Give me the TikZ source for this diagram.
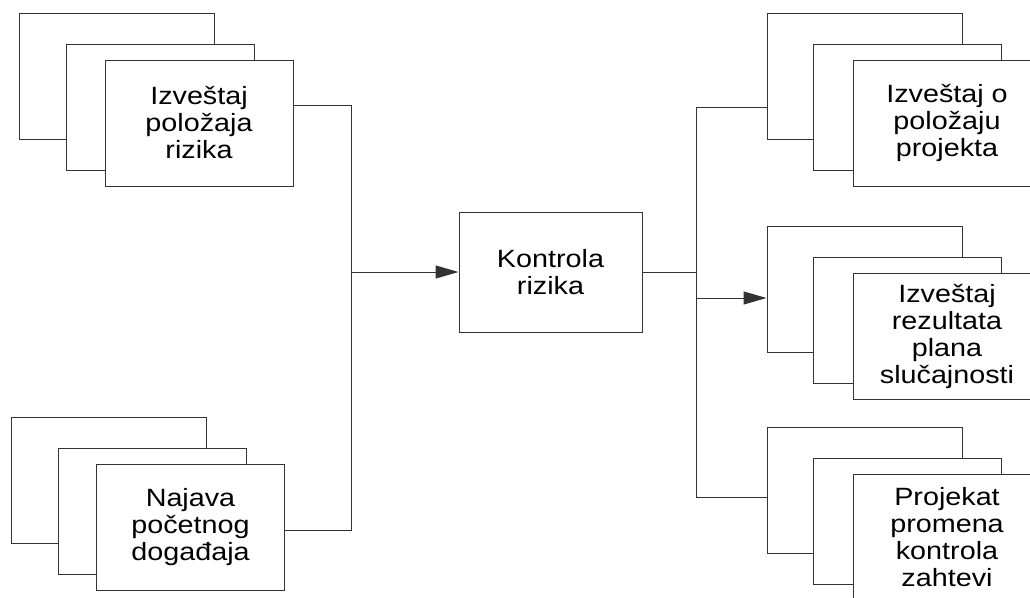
\documentclass[tikz,border=0pt]{standalone}
\usepackage{fontspec}
\usetikzlibrary{arrows.meta,calc}
\newfontfamily\lblfont[FakeStretch=1.15]{Liberation Sans}
\newcommand{\lblsize}{\lblfont\fontsize{25}{27}\selectfont}
\tikzset{
  card/.style={draw=black!80, line width=1pt, fill=white, minimum width=188pt,
    minimum height=126pt, inner sep=0pt, align=center, font=\lblsize},
  backcard/.style={card, minimum width=195pt},
  link/.style={draw=black!80, line width=1pt},
  arr/.style={link, -{Triangle[length=23pt,width=13pt]}}
}
\begin{document}
\begin{tikzpicture}[x=1pt,y=-1pt]
\useasboundingbox (0,0) rectangle (1030,597);
\clip (0,0) rectangle (1030,597);
\fill[white] (0,0) rectangle (1030,597);

% inputs: stacked report cards
\node[backcard] (A1) at (116.5,76) {};
\node[card] (A2) at (160,107.5) {};
\node[card] (A3) at (199,123) {Izveštaj\\položaja\\rizika};

\node[backcard] (B1) at (108.5,480) {};
\node[card] (B2) at (152,511.5) {};
\node[card] (B3) at (190.5,527) {Najava\\početnog\\događaja};

% central process
\node[card, minimum width=183pt, minimum height=120pt] (K) at (550.5,272) {Kontrola\\rizika};

% outputs: stacked report cards
\node[backcard] (C1) at (864.5,76) {};
\node[card] (C2) at (907.5,107.5) {};
\node[card] (C3) at (947,123) {Izveštaj o\\položaju\\projekta};

\node[backcard] (D1) at (864.5,289) {};
\node[card] (D2) at (907.5,320.5) {};
\node[card] (D3) at (947,336) {Izveštaj\\rezultata\\plana\\slučajnosti};

\node[backcard] (E1) at (864.5,490) {};
\node[card] (E2) at (907.5,521.5) {};
\node[card] (E3) at (947,537) {Projekat\\promena\\kontrola\\zahtevi};

% junction points
\coordinate (jl) at (351,272);
\coordinate (jr) at (696,272);
\coordinate (jm) at (696,298);

% connectors into the process
\draw[link] ([yshift=18pt]A3.east) -| (jl);
\draw[link] ([yshift=-3pt]B3.east) -| (jl);
\draw[arr] (jl) -- (K.west);

% connectors out of the process
\draw[link] (K.east) -- (jr);
\draw[link] ([yshift=-31pt]C1.west) -| (jr) |- ([yshift=-7pt]E1.west);
\draw[arr] (jm) -- ([yshift=-9pt]D1.west);
\end{tikzpicture}
\end{document}
